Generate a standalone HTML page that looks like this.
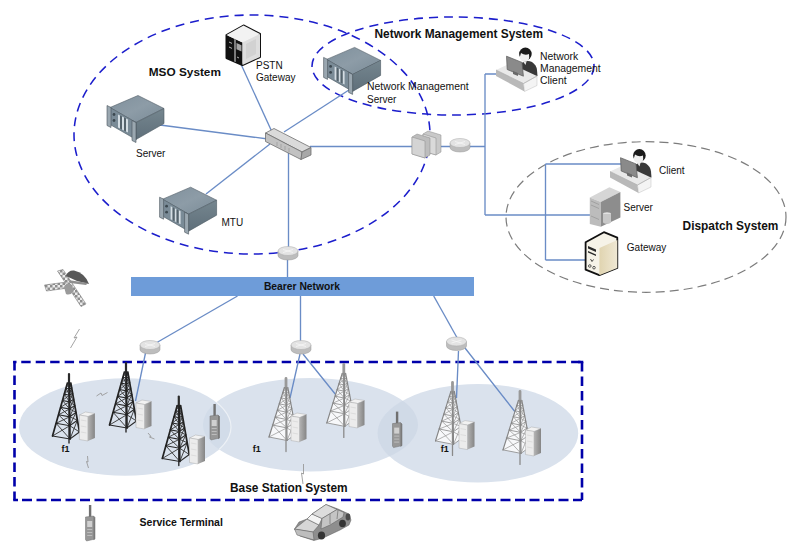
<!DOCTYPE html>
<html><head><meta charset="utf-8">
<style>
html,body{margin:0;padding:0;background:#fff;width:800px;height:546px;overflow:hidden}
svg{display:block}
text{font-family:"Liberation Sans",sans-serif;fill:#111}
.b{font-weight:bold}
</style></head><body>
<svg width="800" height="546" viewBox="0 0 800 546">
<defs>
 <!-- rack server, origin = top vertex -->
 <linearGradient id="rtop" x1="0" y1="0" x2="1" y2="1"><stop offset="0" stop-color="#7f909c"/><stop offset="0.5" stop-color="#8d9ca7"/><stop offset="1" stop-color="#7a8b97"/></linearGradient>
 <linearGradient id="rside" x1="0" y1="0" x2="0" y2="1"><stop offset="0" stop-color="#75868f"/><stop offset="1" stop-color="#5f6f7a"/></linearGradient>
 
 <!-- router disc, origin center of top -->
 
 <!-- base cabinet, origin top-left -->
 
 <linearGradient id="cabside" x1="0" y1="0" x2="1" y2="0"><stop offset="0" stop-color="#b4b4b4"/><stop offset="1" stop-color="#858585"/></linearGradient>
 <!-- dark tower, origin apex -->
 
 <!-- light tower, origin apex -->
 
 <!-- handheld radio, origin antenna top -->
 
 <!-- client at desk, origin desk left-top corner -->
 
</defs>

<!-- base station ellipses -->
<clipPath id="cE1"><ellipse cx="125" cy="427" rx="106" ry="48.75"/></clipPath>
<clipPath id="cE2"><ellipse cx="310.5" cy="424.75" rx="107.5" ry="46.75"/></clipPath>
<g fill="#dae2ed">
 <ellipse cx="125" cy="427" rx="106" ry="48.75"/>
 <ellipse cx="310.5" cy="424.75" rx="107.5" ry="46.75"/>
 <ellipse cx="477.9" cy="433.25" rx="100.3" ry="49.25"/>
</g>
<ellipse cx="310.5" cy="424.75" rx="107.5" ry="46.75" clip-path="url(#cE1)" fill="#b8c8dc" fill-opacity="0.22"/>
<ellipse cx="125" cy="427" rx="106" ry="48.75" clip-path="url(#cE2)" fill="none" stroke="#edf1f6" stroke-width="1.2"/>
<ellipse cx="477.9" cy="433.25" rx="100.3" ry="49.25" clip-path="url(#cE2)" fill="#b8c8dc" fill-opacity="0.3"/>

<!-- base station dashed rect -->
<g stroke="#0000aa" stroke-width="2.6" fill="none">
 <path d="M14.5,361 L14.5,500" stroke-dasharray="9.6 4.9"/>
 <path d="M582,362 L582,500" stroke-dasharray="9.5 5"/>
 <path d="M21.25,362 L582,362" stroke-dasharray="9.4 5.07"/>
 <path d="M22,500 L582,500" stroke-dasharray="10 4.5"/>
 <path d="M13.2,362 L16.5,362 M13.2,500 L18,500 M578,362 L583.3,362"/>
</g>

<!-- system ellipses -->
<ellipse cx="252" cy="134.5" rx="178" ry="119.5" fill="none" stroke="#1c1ecc" stroke-width="1.55" stroke-dasharray="9 6"/>
<ellipse cx="453" cy="66" rx="141" ry="49" fill="none" stroke="#1c1ecc" stroke-width="1.55" stroke-dasharray="9 6"/>
<ellipse cx="646" cy="217" rx="140" ry="75.3" fill="none" stroke="#7c7c7c" stroke-width="1.2" stroke-dasharray="9 5"/>

<!-- connection lines -->
<g stroke="#6a8cc6" stroke-width="1.35" fill="none">
 <path d="M160,125 L268,139"/>
 <path d="M240,62 L272,132"/>
 <path d="M352,88 L284,132"/>
 <path d="M206,194 L270,144"/>
 <path d="M288.5,150 L288.5,250 M287.5,258 L287.5,277"/>
 <path d="M310,146.5 L485,146.5"/>
 <path d="M485,74 L485,215 M485,74 L497,74"/>
 <path d="M485,215 L590,215"/>
 <path d="M545.5,164 L545.5,260 M545.5,164 L621,164 M545.5,260 L588,260"/>
 <path d="M237.5,296 L156,343"/>
 <path d="M300.5,296 L300.5,342"/>
 <path d="M433.7,296 L457.5,338.5"/>
 <path d="M145.5,353 L135.5,401"/>
 <path d="M300,354 L290,398 M303,354 L336,395"/>
 <path d="M458.5,351 L456.5,398 M465,348 L516,413"/>
</g>

<!-- bearer network bar -->
<rect x="131" y="277" width="343" height="19" fill="#6e9cd9"/>
<text x="302" y="289.5" class="b" font-size="10.3" text-anchor="middle">Bearer Network</text>

<!-- MSO icons -->
<g transform="translate(138,95.5)">
  <path d="M0,0 L26,13 L-2,27 L-28,12 Z" fill="url(#rtop)" stroke="#505d66" stroke-width="0.6" stroke-linejoin="round"/>
  <path d="M-28,12 L-2,27 L-2,44 L-28,29 Z" fill="#7a8b97" stroke="#4d5a63" stroke-width="0.6"/>
  <path d="M-2,27 L26,13 L26,28 L-2,44 Z" fill="url(#rside)" stroke="#4d5a63" stroke-width="0.6"/>
  <path d="M-31,10 L-27,12 L-27,32 L-31,30 Z" fill="#9aa7b0" stroke="#46525a" stroke-width="0.6"/>
  <path d="M-6,25 L-2,27 L-2,47 L-6,45 Z" fill="#9aa7b0" stroke="#46525a" stroke-width="0.6"/>
  <circle cx="-24" cy="19" r="1.4" fill="#3c4850"/>
  <circle cx="-24" cy="25" r="1.4" fill="#3c4850"/>
  <path d="M-20,19 L-18,20 L-18,33 L-20,32 Z M-16,21 L-14,22 L-14,35 L-16,34 Z M-12,23 L-10,24 L-10,37 L-12,36 Z" fill="#d4dde3"/>
  <path d="M-18,20 L-16,21 L-16,34 L-18,33 Z M-14,22 L-12,23 L-12,36 L-14,35 Z" fill="#55636c"/>
</g>
<g transform="translate(190.6,187.2)">
  <path d="M0,0 L26,13 L-2,27 L-28,12 Z" fill="url(#rtop)" stroke="#505d66" stroke-width="0.6" stroke-linejoin="round"/>
  <path d="M-28,12 L-2,27 L-2,44 L-28,29 Z" fill="#7a8b97" stroke="#4d5a63" stroke-width="0.6"/>
  <path d="M-2,27 L26,13 L26,28 L-2,44 Z" fill="url(#rside)" stroke="#4d5a63" stroke-width="0.6"/>
  <path d="M-31,10 L-27,12 L-27,32 L-31,30 Z" fill="#9aa7b0" stroke="#46525a" stroke-width="0.6"/>
  <path d="M-6,25 L-2,27 L-2,47 L-6,45 Z" fill="#9aa7b0" stroke="#46525a" stroke-width="0.6"/>
  <circle cx="-24" cy="19" r="1.4" fill="#3c4850"/>
  <circle cx="-24" cy="25" r="1.4" fill="#3c4850"/>
  <path d="M-20,19 L-18,20 L-18,33 L-20,32 Z M-16,21 L-14,22 L-14,35 L-16,34 Z M-12,23 L-10,24 L-10,37 L-12,36 Z" fill="#d4dde3"/>
  <path d="M-18,20 L-16,21 L-16,34 L-18,33 Z M-14,22 L-12,23 L-12,36 L-14,35 Z" fill="#55636c"/>
</g>
<g transform="translate(354.6,47.4)">
  <path d="M0,0 L26,13 L-2,27 L-28,12 Z" fill="url(#rtop)" stroke="#505d66" stroke-width="0.6" stroke-linejoin="round"/>
  <path d="M-28,12 L-2,27 L-2,44 L-28,29 Z" fill="#7a8b97" stroke="#4d5a63" stroke-width="0.6"/>
  <path d="M-2,27 L26,13 L26,28 L-2,44 Z" fill="url(#rside)" stroke="#4d5a63" stroke-width="0.6"/>
  <path d="M-31,10 L-27,12 L-27,32 L-31,30 Z" fill="#9aa7b0" stroke="#46525a" stroke-width="0.6"/>
  <path d="M-6,25 L-2,27 L-2,47 L-6,45 Z" fill="#9aa7b0" stroke="#46525a" stroke-width="0.6"/>
  <circle cx="-24" cy="19" r="1.4" fill="#3c4850"/>
  <circle cx="-24" cy="25" r="1.4" fill="#3c4850"/>
  <path d="M-20,19 L-18,20 L-18,33 L-20,32 Z M-16,21 L-14,22 L-14,35 L-16,34 Z M-12,23 L-10,24 L-10,37 L-12,36 Z" fill="#d4dde3"/>
  <path d="M-18,20 L-16,21 L-16,34 L-18,33 Z M-14,22 L-12,23 L-12,36 L-14,35 Z" fill="#55636c"/>
</g>

<!-- PSTN cube -->
<g>
 <path d="M243.5,25.5 L260,34 L260,57 L242.5,65 L226.5,58 L226.5,35 Z" fill="#e9e9e9" stroke="#111" stroke-width="2" stroke-linejoin="round"/>
 <path d="M226.5,35 L242.5,42.5 L242.5,65 L226.5,58 Z" fill="#111"/>
 <path d="M226.5,35 L243.5,25.5 L260,34 L242.5,42.5 Z" fill="#f2f2f2"/>
 <path d="M242.5,42.5 L260,34 L260,57 L242.5,65 Z" fill="#dedede"/>
 <path d="M246,44 L256,39 L256,54 L246,59 Z" fill="#d2d2d2"/>
 <path d="M234.5,39 L235.5,39.5 L235.5,62 L234.5,61.5 Z" fill="#e6e6e6"/>
 <path d="M236.5,43 L241.5,45.3 L241.5,51.5 L236.5,49.2 Z" fill="#a5a5a5"/>
 <path d="M229,42 L232,43.4 M229,47 L232,48.4 M237,57 L239,58" stroke="#ddd" stroke-width="0.8"/>
</g>

<!-- switch -->
<g stroke="#6f6f6f" stroke-width="0.8" stroke-linejoin="round">
 <path d="M265.5,133 L274,128.5 L311,147.5 L302,152 Z" fill="#dadada"/>
 <path d="M265.5,133 L302,152 L301,159.5 L265.5,141.5 Z" fill="#c2c2c2"/>
 <path d="M302,152 L311,147.5 L311,155 L301,159.5 Z" fill="#a8a8a8"/>
 <path d="M277,142 L277,146 M281,144 L281,148 M285,146 L285,150 M289,148 L289,152" stroke="#9a9a9a" stroke-width="0.7"/>
</g>

<!-- firewall -->
<g stroke="#8a8a8a" stroke-width="0.5">
 <path d="M423,134 L428,131 L441,135 L441,152 L436,155 L423,151 Z" fill="#c9c9c9"/>
 <path d="M423,134 L436,138 L436,155 L423,151 Z" fill="#dadada"/>
 <path d="M412,137 L417,134 L430,138 L430,155 L425,158 L412,154 Z" fill="#bdbdbd"/>
 <path d="M412,137 L425,141 L425,158 L412,154 Z" fill="#d4d4d4"/>
</g>

<!-- routers -->
<g transform="translate(460,143)">
  <path d="M-10,0 L-10,4.5 A10,4.5 0 0 0 10,4.5 L10,0 Z" fill="#bdbdbd" stroke="#9a9a9a" stroke-width="0.5"/>
  <ellipse cx="0" cy="0" rx="10" ry="4.5" fill="#e3e3e3" stroke="#a8a8a8" stroke-width="0.5"/>
  <path d="M-5,-1.5 L5,1.5 M-5,1.5 L5,-1.5" stroke="#f6f6f6" stroke-width="0.8"/>
</g>
<g transform="translate(288,251)">
  <path d="M-10,0 L-10,4.5 A10,4.5 0 0 0 10,4.5 L10,0 Z" fill="#bdbdbd" stroke="#9a9a9a" stroke-width="0.5"/>
  <ellipse cx="0" cy="0" rx="10" ry="4.5" fill="#e3e3e3" stroke="#a8a8a8" stroke-width="0.5"/>
  <path d="M-5,-1.5 L5,1.5 M-5,1.5 L5,-1.5" stroke="#f6f6f6" stroke-width="0.8"/>
</g>
<g transform="translate(150,345)">
  <path d="M-10,0 L-10,4.5 A10,4.5 0 0 0 10,4.5 L10,0 Z" fill="#bdbdbd" stroke="#9a9a9a" stroke-width="0.5"/>
  <ellipse cx="0" cy="0" rx="10" ry="4.5" fill="#e3e3e3" stroke="#a8a8a8" stroke-width="0.5"/>
  <path d="M-5,-1.5 L5,1.5 M-5,1.5 L5,-1.5" stroke="#f6f6f6" stroke-width="0.8"/>
</g>
<g transform="translate(301,345)">
  <path d="M-10,0 L-10,4.5 A10,4.5 0 0 0 10,4.5 L10,0 Z" fill="#bdbdbd" stroke="#9a9a9a" stroke-width="0.5"/>
  <ellipse cx="0" cy="0" rx="10" ry="4.5" fill="#e3e3e3" stroke="#a8a8a8" stroke-width="0.5"/>
  <path d="M-5,-1.5 L5,1.5 M-5,1.5 L5,-1.5" stroke="#f6f6f6" stroke-width="0.8"/>
</g>
<g transform="translate(456.5,341.5)">
  <path d="M-10,0 L-10,4.5 A10,4.5 0 0 0 10,4.5 L10,0 Z" fill="#bdbdbd" stroke="#9a9a9a" stroke-width="0.5"/>
  <ellipse cx="0" cy="0" rx="10" ry="4.5" fill="#e3e3e3" stroke="#a8a8a8" stroke-width="0.5"/>
  <path d="M-5,-1.5 L5,1.5 M-5,1.5 L5,-1.5" stroke="#f6f6f6" stroke-width="0.8"/>
</g>

<!-- clients -->
<g transform="translate(496,70)">
  <path d="M24,-6 Q30,-10.5 36,-8 Q40.5,-5 41,0 L41.5,6 L26,6 Z" fill="#393939"/>
  <path d="M27,-8.5 L30.5,-8.5 L29.5,-5 Z" fill="#e8e8e8"/>
  <ellipse cx="29.4" cy="-16" rx="6.3" ry="6.4" fill="#1a1a1a"/>
  <path d="M23.8,-13 Q24,-8.6 28.8,-8.4 Q33,-8.8 33.2,-12.5 L33,-16 Q29,-14 25,-17 Z" fill="#efefef"/>
  <path d="M0,0 L14,-6.5 L41,6 L27.5,13.5 Z" fill="#e9e9e9"/>
  <path d="M0,0 L27.5,13.5 L28.5,21.5 L0,6 Z" fill="#b9b9b9"/>
  <path d="M27.5,13.5 L41,6 L41,15.5 L28.5,21.5 Z" fill="#f4f4f4" stroke="#b0b0b0" stroke-width="0.4"/>
  <path d="M0,0 L27.5,13.5 L41,6" fill="none" stroke="#a8a8a8" stroke-width="0.6"/>
  <path d="M10.5,-13.8 L26,-7.6 L27.4,6.2 L11.2,-0.5 Z" fill="#8a8a8a" stroke="#5a5a5a" stroke-width="0.7"/>
  <path d="M17,1 L22,3 L22,6 L17,4 Z" fill="#6a6a6a"/>
</g>
<g transform="translate(610,171.5)">
  <path d="M24,-6 Q30,-10.5 36,-8 Q40.5,-5 41,0 L41.5,6 L26,6 Z" fill="#393939"/>
  <path d="M27,-8.5 L30.5,-8.5 L29.5,-5 Z" fill="#e8e8e8"/>
  <ellipse cx="29.4" cy="-16" rx="6.3" ry="6.4" fill="#1a1a1a"/>
  <path d="M23.8,-13 Q24,-8.6 28.8,-8.4 Q33,-8.8 33.2,-12.5 L33,-16 Q29,-14 25,-17 Z" fill="#efefef"/>
  <path d="M0,0 L14,-6.5 L41,6 L27.5,13.5 Z" fill="#e9e9e9"/>
  <path d="M0,0 L27.5,13.5 L28.5,21.5 L0,6 Z" fill="#b9b9b9"/>
  <path d="M27.5,13.5 L41,6 L41,15.5 L28.5,21.5 Z" fill="#f4f4f4" stroke="#b0b0b0" stroke-width="0.4"/>
  <path d="M0,0 L27.5,13.5 L41,6" fill="none" stroke="#a8a8a8" stroke-width="0.6"/>
  <path d="M10.5,-13.8 L26,-7.6 L27.4,6.2 L11.2,-0.5 Z" fill="#8a8a8a" stroke="#5a5a5a" stroke-width="0.7"/>
  <path d="M17,1 L22,3 L22,6 L17,4 Z" fill="#6a6a6a"/>
</g>

<!-- dispatch server tower -->
<g>
 <path d="M589.8,197.4 L609.4,187.3 L620.4,191.9 L600.8,202 Z" fill="#d6d6d6"/>
 <path d="M589.8,197.4 L600.8,202 L600.8,226.7 L589.8,224 Z" fill="#bcbcbc"/>
 <path d="M600.8,202 L620.4,191.9 L620.4,217.5 L600.8,226.7 Z" fill="#8d8d8d"/>
 <path d="M591,201 L599,204.5 M591,205 L599,208.5 M591,216 L599,219.5" stroke="#999" stroke-width="0.8"/>
 <ellipse cx="607" cy="214" rx="4" ry="1.8" fill="#e2e2e2"/>
 <path d="M603,214 L603,222 A4,1.8 0 0 0 611,222 L611,214 Z" fill="#c8c8c8"/>
</g>

<!-- dispatch gateway -->
<g stroke-linejoin="round">
 <path d="M603.9,232.2 L617.3,237.7 L617.3,267.9 L599.3,275.2 L585.6,269.7 L585.6,242.3 Z" fill="#f6f3e8" stroke="#111" stroke-width="1.8"/>
 <path d="M599.5,248 L617.3,240 L617.3,267.9 L599.3,275.2 Z" fill="url(#gwside)"/>
 <linearGradient id="gwside" x1="0" y1="0" x2="1" y2="0"><stop offset="0" stop-color="#e0d4b0"/><stop offset="1" stop-color="#efe8d4"/></linearGradient>
 <path d="M588,246 L596,249.5 L596,252 L588,248.5 Z M588,251 L596,254.5 L596,256 L588,252.5 Z" fill="#2a2a2a"/>
 <path d="M590.5,259 L592,261.5 L593.5,259.5" stroke="#333" stroke-width="0.9" fill="none"/>
 <circle cx="589.8" cy="266" r="1.3" fill="none" stroke="#333" stroke-width="0.8"/>
 <circle cx="594" cy="267.7" r="1.3" fill="none" stroke="#333" stroke-width="0.8"/>
</g>

<!-- base station towers and cabinets -->
<g transform="translate(69,374)" fill="none" stroke-linecap="round">
  <path d="M0,0 L0,9" stroke="#2a2a2a" stroke-width="2.2"/>
  <path d="M0,9 L0,69" stroke="#2a2a2a" stroke-width="1.4"/>
  <path d="M-1.6,9.0 L0.4,15.1 M0.3,9.5 L-3.1,14.3 M0.3,9.5 L2.7,13.9 M1.8,9.0 L0.4,15.1 M-3.1,14.3 L0.4,21.2 M0.4,15.1 L-4.7,20.1 M0.4,15.1 L3.6,19.3 M2.7,13.9 L0.4,21.2 M-4.7,20.1 L0.5,27.8 M0.4,21.2 L-6.5,26.5 M0.4,21.2 L4.7,25.2 M3.6,19.3 L0.5,27.8 M-6.5,26.5 L0.6,35.0 M0.5,27.8 L-8.5,33.4 M0.5,27.8 L5.8,31.5 M4.7,25.2 L0.6,35.0 M-8.5,33.4 L0.7,42.8 M0.6,35.0 L-10.5,40.8 M0.6,35.0 L7.0,38.4 M5.8,31.5 L0.7,42.8 M-10.5,40.8 L0.8,51.7 M0.7,42.8 L-12.9,49.3 M0.7,42.8 L8.4,46.2 M7.0,38.4 L0.8,51.7 M-12.9,49.3 L1.0,65.0 M0.8,51.7 L-16.5,62.0 M0.8,51.7 L10.5,58.0 M8.4,46.2 L1.0,65.0" stroke="#333" stroke-width="0.9"/>
  <path d="M-3.1,14.3 L0.4,15.1 L2.7,13.9 M-4.7,20.1 L0.4,21.2 L3.6,19.3 M-6.5,26.5 L0.5,27.8 L4.7,25.2 M-8.5,33.4 L0.6,35.0 L5.8,31.5 M-10.5,40.8 L0.7,42.8 L7.0,38.4 M-12.9,49.3 L0.8,51.7 L8.4,46.2 M-16.5,62.0 L1.0,65.0 L10.5,58.0" stroke="#2a2a2a" stroke-width="1.1"/>
  <path d="M-1.6,9.0 L-16.5,62.0 M0.3,9.5 L1.0,65.0 M1.8,9.0 L10.5,58.0" stroke="#222" stroke-width="1.7"/>
</g>
<g transform="translate(79.4,412)">
  <path d="M0,3 L6,0 L15.5,1.5 L8.5,4.5 Z" fill="#f2f2f2" stroke="#a0a0a0" stroke-width="0.4"/>
  <path d="M0,3 L8.5,4.5 L8.5,29 L0,27.5 Z" fill="#ececec" stroke="#a0a0a0" stroke-width="0.4"/>
  <path d="M8.5,4.5 L15.5,1.5 L15.5,26 L8.5,29 Z" fill="url(#cabside)"/>
  <path d="M1.5,8 L7,9 M1.5,14 L7,15 M1.5,20 L7,21" stroke="#d2d2d2" stroke-width="0.6"/>
</g>
<g transform="translate(126,363)" fill="none" stroke-linecap="round">
  <path d="M0,0 L0,9" stroke="#2a2a2a" stroke-width="2.2"/>
  <path d="M0,9 L0,69" stroke="#2a2a2a" stroke-width="1.4"/>
  <path d="M-1.6,9.0 L0.4,15.1 M0.3,9.5 L-3.1,14.3 M0.3,9.5 L2.7,13.9 M1.8,9.0 L0.4,15.1 M-3.1,14.3 L0.4,21.2 M0.4,15.1 L-4.7,20.1 M0.4,15.1 L3.6,19.3 M2.7,13.9 L0.4,21.2 M-4.7,20.1 L0.5,27.8 M0.4,21.2 L-6.5,26.5 M0.4,21.2 L4.7,25.2 M3.6,19.3 L0.5,27.8 M-6.5,26.5 L0.6,35.0 M0.5,27.8 L-8.5,33.4 M0.5,27.8 L5.8,31.5 M4.7,25.2 L0.6,35.0 M-8.5,33.4 L0.7,42.8 M0.6,35.0 L-10.5,40.8 M0.6,35.0 L7.0,38.4 M5.8,31.5 L0.7,42.8 M-10.5,40.8 L0.8,51.7 M0.7,42.8 L-12.9,49.3 M0.7,42.8 L8.4,46.2 M7.0,38.4 L0.8,51.7 M-12.9,49.3 L1.0,65.0 M0.8,51.7 L-16.5,62.0 M0.8,51.7 L10.5,58.0 M8.4,46.2 L1.0,65.0" stroke="#333" stroke-width="0.9"/>
  <path d="M-3.1,14.3 L0.4,15.1 L2.7,13.9 M-4.7,20.1 L0.4,21.2 L3.6,19.3 M-6.5,26.5 L0.5,27.8 L4.7,25.2 M-8.5,33.4 L0.6,35.0 L5.8,31.5 M-10.5,40.8 L0.7,42.8 L7.0,38.4 M-12.9,49.3 L0.8,51.7 L8.4,46.2 M-16.5,62.0 L1.0,65.0 L10.5,58.0" stroke="#2a2a2a" stroke-width="1.1"/>
  <path d="M-1.6,9.0 L-16.5,62.0 M0.3,9.5 L1.0,65.0 M1.8,9.0 L10.5,58.0" stroke="#222" stroke-width="1.7"/>
</g>
<g transform="translate(136,400)">
  <path d="M0,3 L6,0 L15.5,1.5 L8.5,4.5 Z" fill="#f2f2f2" stroke="#a0a0a0" stroke-width="0.4"/>
  <path d="M0,3 L8.5,4.5 L8.5,29 L0,27.5 Z" fill="#ececec" stroke="#a0a0a0" stroke-width="0.4"/>
  <path d="M8.5,4.5 L15.5,1.5 L15.5,26 L8.5,29 Z" fill="url(#cabside)"/>
  <path d="M1.5,8 L7,9 M1.5,14 L7,15 M1.5,20 L7,21" stroke="#d2d2d2" stroke-width="0.6"/>
</g>
<g transform="translate(178.8,396.5)" fill="none" stroke-linecap="round">
  <path d="M0,0 L0,9" stroke="#2a2a2a" stroke-width="2.2"/>
  <path d="M0,9 L0,69" stroke="#2a2a2a" stroke-width="1.4"/>
  <path d="M-1.6,9.0 L0.4,15.1 M0.3,9.5 L-3.1,14.3 M0.3,9.5 L2.7,13.9 M1.8,9.0 L0.4,15.1 M-3.1,14.3 L0.4,21.2 M0.4,15.1 L-4.7,20.1 M0.4,15.1 L3.6,19.3 M2.7,13.9 L0.4,21.2 M-4.7,20.1 L0.5,27.8 M0.4,21.2 L-6.5,26.5 M0.4,21.2 L4.7,25.2 M3.6,19.3 L0.5,27.8 M-6.5,26.5 L0.6,35.0 M0.5,27.8 L-8.5,33.4 M0.5,27.8 L5.8,31.5 M4.7,25.2 L0.6,35.0 M-8.5,33.4 L0.7,42.8 M0.6,35.0 L-10.5,40.8 M0.6,35.0 L7.0,38.4 M5.8,31.5 L0.7,42.8 M-10.5,40.8 L0.8,51.7 M0.7,42.8 L-12.9,49.3 M0.7,42.8 L8.4,46.2 M7.0,38.4 L0.8,51.7 M-12.9,49.3 L1.0,65.0 M0.8,51.7 L-16.5,62.0 M0.8,51.7 L10.5,58.0 M8.4,46.2 L1.0,65.0" stroke="#333" stroke-width="0.9"/>
  <path d="M-3.1,14.3 L0.4,15.1 L2.7,13.9 M-4.7,20.1 L0.4,21.2 L3.6,19.3 M-6.5,26.5 L0.5,27.8 L4.7,25.2 M-8.5,33.4 L0.6,35.0 L5.8,31.5 M-10.5,40.8 L0.7,42.8 L7.0,38.4 M-12.9,49.3 L0.8,51.7 L8.4,46.2 M-16.5,62.0 L1.0,65.0 L10.5,58.0" stroke="#2a2a2a" stroke-width="1.1"/>
  <path d="M-1.6,9.0 L-16.5,62.0 M0.3,9.5 L1.0,65.0 M1.8,9.0 L10.5,58.0" stroke="#222" stroke-width="1.7"/>
</g>
<g transform="translate(189.5,435)">
  <path d="M0,3 L6,0 L15.5,1.5 L8.5,4.5 Z" fill="#f2f2f2" stroke="#a0a0a0" stroke-width="0.4"/>
  <path d="M0,3 L8.5,4.5 L8.5,29 L0,27.5 Z" fill="#ececec" stroke="#a0a0a0" stroke-width="0.4"/>
  <path d="M8.5,4.5 L15.5,1.5 L15.5,26 L8.5,29 Z" fill="url(#cabside)"/>
  <path d="M1.5,8 L7,9 M1.5,14 L7,15 M1.5,20 L7,21" stroke="#d2d2d2" stroke-width="0.6"/>
</g>

<g transform="translate(286,378.5)" fill="none" stroke-linecap="round">
  <path d="M-1.6,9.0 L-17.0,58.5 L1.0,62.0 L10.5,55.0 L1.8,9.0 Z" fill="#f7f8fa" stroke="none"/>
  <path d="M0,0 L0,10" stroke="#999" stroke-width="2.8"/>
  <path d="M0,9 L0,73" stroke="#8a8a8a" stroke-width="1.3"/>
  <path d="M-1.6,9.0 L0.4,14.8 M0.3,9.5 L-3.1,13.9 M0.3,9.5 L2.7,13.6 M1.8,9.0 L0.4,14.8 M-3.1,13.9 L0.4,20.5 M0.4,14.8 L-4.8,19.4 M0.4,14.8 L3.6,18.7 M2.7,13.6 L0.4,20.5 M-4.8,19.4 L0.5,26.8 M0.4,20.5 L-6.7,25.3 M0.4,20.5 L4.7,24.2 M3.6,18.7 L0.5,26.8 M-6.7,25.3 L0.6,33.7 M0.5,26.8 L-8.7,31.8 M0.5,26.8 L5.8,30.2 M4.7,24.2 L0.6,33.7 M-8.7,31.8 L0.7,41.0 M0.6,33.7 L-10.8,38.7 M0.6,33.7 L7.0,36.6 M5.8,30.2 L0.7,41.0 M-10.8,38.7 L0.8,49.4 M0.7,41.0 L-13.3,46.6 M0.7,41.0 L8.4,44.0 M7.0,36.6 L0.8,49.4 M-13.3,46.6 L1.0,62.0 M0.8,49.4 L-17.0,58.5 M0.8,49.4 L10.5,55.0 M8.4,44.0 L1.0,62.0" stroke="#9a9a9a" stroke-width="0.75"/>
  <path d="M-3.1,13.9 L0.4,14.8 L2.7,13.6 M-4.8,19.4 L0.4,20.5 L3.6,18.7 M-6.7,25.3 L0.5,26.8 L4.7,24.2 M-8.7,31.8 L0.6,33.7 L5.8,30.2 M-10.8,38.7 L0.7,41.0 L7.0,36.6 M-13.3,46.6 L0.8,49.4 L8.4,44.0 M-17.0,58.5 L1.0,62.0 L10.5,55.0" stroke="#939393" stroke-width="0.9"/>
  <path d="M-1.6,9.0 L-17.0,58.5 M0.3,9.5 L1.0,62.0 M1.8,9.0 L10.5,55.0" stroke="#858585" stroke-width="1.2"/>
</g>
<g transform="translate(291,413)">
  <path d="M0,3 L6,0 L15.5,1.5 L8.5,4.5 Z" fill="#f2f2f2" stroke="#a0a0a0" stroke-width="0.4"/>
  <path d="M0,3 L8.5,4.5 L8.5,29 L0,27.5 Z" fill="#ececec" stroke="#a0a0a0" stroke-width="0.4"/>
  <path d="M8.5,4.5 L15.5,1.5 L15.5,26 L8.5,29 Z" fill="url(#cabside)"/>
  <path d="M1.5,8 L7,9 M1.5,14 L7,15 M1.5,20 L7,21" stroke="#d2d2d2" stroke-width="0.6"/>
</g>
<g transform="translate(343.8,364.4)" fill="none" stroke-linecap="round">
  <path d="M-1.6,9.0 L-17.0,58.5 L1.0,62.0 L10.5,55.0 L1.8,9.0 Z" fill="#f7f8fa" stroke="none"/>
  <path d="M0,0 L0,10" stroke="#999" stroke-width="2.8"/>
  <path d="M0,9 L0,73" stroke="#8a8a8a" stroke-width="1.3"/>
  <path d="M-1.6,9.0 L0.4,14.8 M0.3,9.5 L-3.1,13.9 M0.3,9.5 L2.7,13.6 M1.8,9.0 L0.4,14.8 M-3.1,13.9 L0.4,20.5 M0.4,14.8 L-4.8,19.4 M0.4,14.8 L3.6,18.7 M2.7,13.6 L0.4,20.5 M-4.8,19.4 L0.5,26.8 M0.4,20.5 L-6.7,25.3 M0.4,20.5 L4.7,24.2 M3.6,18.7 L0.5,26.8 M-6.7,25.3 L0.6,33.7 M0.5,26.8 L-8.7,31.8 M0.5,26.8 L5.8,30.2 M4.7,24.2 L0.6,33.7 M-8.7,31.8 L0.7,41.0 M0.6,33.7 L-10.8,38.7 M0.6,33.7 L7.0,36.6 M5.8,30.2 L0.7,41.0 M-10.8,38.7 L0.8,49.4 M0.7,41.0 L-13.3,46.6 M0.7,41.0 L8.4,44.0 M7.0,36.6 L0.8,49.4 M-13.3,46.6 L1.0,62.0 M0.8,49.4 L-17.0,58.5 M0.8,49.4 L10.5,55.0 M8.4,44.0 L1.0,62.0" stroke="#9a9a9a" stroke-width="0.75"/>
  <path d="M-3.1,13.9 L0.4,14.8 L2.7,13.6 M-4.8,19.4 L0.4,20.5 L3.6,18.7 M-6.7,25.3 L0.5,26.8 L4.7,24.2 M-8.7,31.8 L0.6,33.7 L5.8,30.2 M-10.8,38.7 L0.7,41.0 L7.0,36.6 M-13.3,46.6 L0.8,49.4 L8.4,44.0 M-17.0,58.5 L1.0,62.0 L10.5,55.0" stroke="#939393" stroke-width="0.9"/>
  <path d="M-1.6,9.0 L-17.0,58.5 M0.3,9.5 L1.0,62.0 M1.8,9.0 L10.5,55.0" stroke="#858585" stroke-width="1.2"/>
</g>
<g transform="translate(349,399)">
  <path d="M0,3 L6,0 L15.5,1.5 L8.5,4.5 Z" fill="#f2f2f2" stroke="#a0a0a0" stroke-width="0.4"/>
  <path d="M0,3 L8.5,4.5 L8.5,29 L0,27.5 Z" fill="#ececec" stroke="#a0a0a0" stroke-width="0.4"/>
  <path d="M8.5,4.5 L15.5,1.5 L15.5,26 L8.5,29 Z" fill="url(#cabside)"/>
  <path d="M1.5,8 L7,9 M1.5,14 L7,15 M1.5,20 L7,21" stroke="#d2d2d2" stroke-width="0.6"/>
</g>

<g transform="translate(452.5,382.4)" fill="none" stroke-linecap="round">
  <path d="M-1.6,9.0 L-17.0,58.5 L1.0,62.0 L10.5,55.0 L1.8,9.0 Z" fill="#f7f8fa" stroke="none"/>
  <path d="M0,0 L0,10" stroke="#999" stroke-width="2.8"/>
  <path d="M0,9 L0,73" stroke="#8a8a8a" stroke-width="1.3"/>
  <path d="M-1.6,9.0 L0.4,14.8 M0.3,9.5 L-3.1,13.9 M0.3,9.5 L2.7,13.6 M1.8,9.0 L0.4,14.8 M-3.1,13.9 L0.4,20.5 M0.4,14.8 L-4.8,19.4 M0.4,14.8 L3.6,18.7 M2.7,13.6 L0.4,20.5 M-4.8,19.4 L0.5,26.8 M0.4,20.5 L-6.7,25.3 M0.4,20.5 L4.7,24.2 M3.6,18.7 L0.5,26.8 M-6.7,25.3 L0.6,33.7 M0.5,26.8 L-8.7,31.8 M0.5,26.8 L5.8,30.2 M4.7,24.2 L0.6,33.7 M-8.7,31.8 L0.7,41.0 M0.6,33.7 L-10.8,38.7 M0.6,33.7 L7.0,36.6 M5.8,30.2 L0.7,41.0 M-10.8,38.7 L0.8,49.4 M0.7,41.0 L-13.3,46.6 M0.7,41.0 L8.4,44.0 M7.0,36.6 L0.8,49.4 M-13.3,46.6 L1.0,62.0 M0.8,49.4 L-17.0,58.5 M0.8,49.4 L10.5,55.0 M8.4,44.0 L1.0,62.0" stroke="#9a9a9a" stroke-width="0.75"/>
  <path d="M-3.1,13.9 L0.4,14.8 L2.7,13.6 M-4.8,19.4 L0.4,20.5 L3.6,18.7 M-6.7,25.3 L0.5,26.8 L4.7,24.2 M-8.7,31.8 L0.6,33.7 L5.8,30.2 M-10.8,38.7 L0.7,41.0 L7.0,36.6 M-13.3,46.6 L0.8,49.4 L8.4,44.0 M-17.0,58.5 L1.0,62.0 L10.5,55.0" stroke="#939393" stroke-width="0.9"/>
  <path d="M-1.6,9.0 L-17.0,58.5 M0.3,9.5 L1.0,62.0 M1.8,9.0 L10.5,55.0" stroke="#858585" stroke-width="1.2"/>
</g>
<g transform="translate(459,420.6)">
  <path d="M0,3 L6,0 L15.5,1.5 L8.5,4.5 Z" fill="#f2f2f2" stroke="#a0a0a0" stroke-width="0.4"/>
  <path d="M0,3 L8.5,4.5 L8.5,29 L0,27.5 Z" fill="#ececec" stroke="#a0a0a0" stroke-width="0.4"/>
  <path d="M8.5,4.5 L15.5,1.5 L15.5,26 L8.5,29 Z" fill="url(#cabside)"/>
  <path d="M1.5,8 L7,9 M1.5,14 L7,15 M1.5,20 L7,21" stroke="#d2d2d2" stroke-width="0.6"/>
</g>
<g transform="translate(520,391.4)" fill="none" stroke-linecap="round">
  <path d="M-1.6,9.0 L-17.0,58.5 L1.0,62.0 L10.5,55.0 L1.8,9.0 Z" fill="#f7f8fa" stroke="none"/>
  <path d="M0,0 L0,10" stroke="#999" stroke-width="2.8"/>
  <path d="M0,9 L0,73" stroke="#8a8a8a" stroke-width="1.3"/>
  <path d="M-1.6,9.0 L0.4,14.8 M0.3,9.5 L-3.1,13.9 M0.3,9.5 L2.7,13.6 M1.8,9.0 L0.4,14.8 M-3.1,13.9 L0.4,20.5 M0.4,14.8 L-4.8,19.4 M0.4,14.8 L3.6,18.7 M2.7,13.6 L0.4,20.5 M-4.8,19.4 L0.5,26.8 M0.4,20.5 L-6.7,25.3 M0.4,20.5 L4.7,24.2 M3.6,18.7 L0.5,26.8 M-6.7,25.3 L0.6,33.7 M0.5,26.8 L-8.7,31.8 M0.5,26.8 L5.8,30.2 M4.7,24.2 L0.6,33.7 M-8.7,31.8 L0.7,41.0 M0.6,33.7 L-10.8,38.7 M0.6,33.7 L7.0,36.6 M5.8,30.2 L0.7,41.0 M-10.8,38.7 L0.8,49.4 M0.7,41.0 L-13.3,46.6 M0.7,41.0 L8.4,44.0 M7.0,36.6 L0.8,49.4 M-13.3,46.6 L1.0,62.0 M0.8,49.4 L-17.0,58.5 M0.8,49.4 L10.5,55.0 M8.4,44.0 L1.0,62.0" stroke="#9a9a9a" stroke-width="0.75"/>
  <path d="M-3.1,13.9 L0.4,14.8 L2.7,13.6 M-4.8,19.4 L0.4,20.5 L3.6,18.7 M-6.7,25.3 L0.5,26.8 L4.7,24.2 M-8.7,31.8 L0.6,33.7 L5.8,30.2 M-10.8,38.7 L0.7,41.0 L7.0,36.6 M-13.3,46.6 L0.8,49.4 L8.4,44.0 M-17.0,58.5 L1.0,62.0 L10.5,55.0" stroke="#939393" stroke-width="0.9"/>
  <path d="M-1.6,9.0 L-17.0,58.5 M0.3,9.5 L1.0,62.0 M1.8,9.0 L10.5,55.0" stroke="#858585" stroke-width="1.2"/>
</g>
<g transform="translate(525.5,427)">
  <path d="M0,3 L6,0 L15.5,1.5 L8.5,4.5 Z" fill="#f2f2f2" stroke="#a0a0a0" stroke-width="0.4"/>
  <path d="M0,3 L8.5,4.5 L8.5,29 L0,27.5 Z" fill="#ececec" stroke="#a0a0a0" stroke-width="0.4"/>
  <path d="M8.5,4.5 L15.5,1.5 L15.5,26 L8.5,29 Z" fill="url(#cabside)"/>
  <path d="M1.5,8 L7,9 M1.5,14 L7,15 M1.5,20 L7,21" stroke="#d2d2d2" stroke-width="0.6"/>
</g>

<!-- radios -->
<g transform="translate(214.5,404)">
  <rect x="-1.1" y="0" width="2.4" height="13" fill="#707070"/>
  <path d="M-4.5,12 L3.5,11 L5,12.5 L5,34 L-3.5,36 L-4.5,34.5 Z" fill="#979797" stroke="#6e6e6e" stroke-width="0.5"/>
  <path d="M3.5,11 L5,12.5 L5,34 L3.5,35.3 Z" fill="#7a7a7a"/>
  <rect x="-2.8" y="16" width="5" height="6" fill="#d0d0d0"/>
  <path d="M-2.8,24.5 h5 M-2.8,27.5 h5 M-2.8,30.5 h5" stroke="#bcbcbc" stroke-width="1"/>
</g>
<g transform="translate(397,411.6)">
  <rect x="-1.1" y="0" width="2.4" height="13" fill="#707070"/>
  <path d="M-4.5,12 L3.5,11 L5,12.5 L5,34 L-3.5,36 L-4.5,34.5 Z" fill="#979797" stroke="#6e6e6e" stroke-width="0.5"/>
  <path d="M3.5,11 L5,12.5 L5,34 L3.5,35.3 Z" fill="#7a7a7a"/>
  <rect x="-2.8" y="16" width="5" height="6" fill="#d0d0d0"/>
  <path d="M-2.8,24.5 h5 M-2.8,27.5 h5 M-2.8,30.5 h5" stroke="#bcbcbc" stroke-width="1"/>
</g>
<g transform="translate(90,505)">
  <rect x="-1.1" y="0" width="2.4" height="13" fill="#707070"/>
  <path d="M-4.5,12 L3.5,11 L5,12.5 L5,34 L-3.5,36 L-4.5,34.5 Z" fill="#979797" stroke="#6e6e6e" stroke-width="0.5"/>
  <path d="M3.5,11 L5,12.5 L5,34 L3.5,35.3 Z" fill="#7a7a7a"/>
  <rect x="-2.8" y="16" width="5" height="6" fill="#d0d0d0"/>
  <path d="M-2.8,24.5 h5 M-2.8,27.5 h5 M-2.8,30.5 h5" stroke="#bcbcbc" stroke-width="1"/>
</g>

<!-- lightning marks -->
<g stroke="#9a9a9a" stroke-width="0.9" fill="none">
 <path d="M79.5,329 L74,338 L77,337 L70.5,348"/>
 <path d="M96.5,396 L101,393 L102,395.5 L107.5,392.5"/>
 <path d="M148,433 L151,436.5 L149.5,437 L154.5,439"/>
 <path d="M87.5,456 L88,462 L86.5,461.5 L88.5,468"/>
 <path d="M303.5,464 L303.5,474 L301.5,473 L303,484"/>
</g>

<!-- satellite -->
<g>
 <defs>
  <pattern id="chk" width="5" height="5" patternUnits="userSpaceOnUse"><rect width="5" height="5" fill="#ececec"/><rect width="2.5" height="2.5" fill="#8e8e8e"/><rect x="2.5" y="2.5" width="2.5" height="2.5" fill="#8e8e8e"/></pattern>
 </defs>
 <path d="M44.5,285 L67,282 L68,288 L46.5,291 Z" fill="url(#chk)" stroke="#777" stroke-width="0.6"/>
 <path d="M57.5,271 L63,269.5 L86,304 L81,306.5 Z" fill="url(#chk)" stroke="#777" stroke-width="0.6"/>
 <path d="M64,287 Q66,283 71,284 L74,291 Q70,296 66,294 Z" fill="#9a9a9a"/>
 <path d="M66,276 Q68,270 74,270.5 Q85,273 89,284 L77,281 Z" fill="#585858"/>
 <path d="M68,280 L88,283 L86,285 L70,283 Z" fill="#8f8f8f"/>
</g>

<!-- car -->
<g stroke="#5a5a5a" stroke-width="0.5" stroke-linejoin="round">
 <path d="M294.5,529 L299,522 L307,519 L312,514 L326,504.5 L338,509 L349,514 L351,520 L349,525 L340,530 L323,538 L314,540.5 L300,536 Z" fill="#8e8e8e"/>
 <path d="M294.5,529 L307,519 L319,525 L313,532 Z" fill="#d6d6d6"/>
 <path d="M294.5,529 L313,532 L314,540 L297,535 Z" fill="#bdbdbd"/>
 <path d="M307,519 L312,514 L322,518.5 L319,525 Z" fill="#f4f4f4"/>
 <path d="M312,514 L326,504.5 L337,509.5 L322,518.5 Z" fill="#dcdcdc"/>
 <path d="M322,518.5 L337,509.5 L344,512.5 L343,517 L330,525 L321,529 Z" fill="#c4c4c4"/>
 <path d="M330,514 L330,524 M338,510 L337,519" stroke="#7a7a7a" stroke-width="0.8"/>
 <ellipse cx="321.5" cy="535.5" rx="3.6" ry="4" fill="#353535" stroke="none"/>
 <ellipse cx="342.5" cy="523.5" rx="3.4" ry="3.8" fill="#353535" stroke="none"/>
 <ellipse cx="348" cy="517" rx="2.4" ry="3.4" fill="#4a4a4a" stroke="none"/>
</g>

<!-- labels -->
<text x="148.8" y="76" class="b" font-size="11.8">MSO System</text>
<text x="374.5" y="37.5" class="b" font-size="11.9">Network Management System</text>
<text x="682.6" y="230" class="b" font-size="11.9">Dispatch System</text>
<text x="230" y="492" class="b" font-size="11.9">Base Station System</text>
<text x="139.6" y="526" class="b" font-size="10.5">Service Terminal</text>

<g font-size="10">
 <text x="136" y="157">Server</text>
 <text x="256" y="68.7">PSTN</text>
 <text x="256" y="81">Gateway</text>
 <text x="367" y="90" font-size="10.4">Network Management</text>
 <text x="367" y="102.7">Server</text>
 <text x="221.5" y="226.4">MTU</text>
 <text x="540" y="59.5" font-size="10.4">Network</text>
 <text x="540" y="71.5" font-size="10.4">Management</text>
 <text x="540" y="84.2" font-size="10.4">Client</text>
 <text x="659" y="173.7">Client</text>
 <text x="623.5" y="210.5">Server</text>
 <text x="626.8" y="250.5">Gateway</text>
 <text x="61.6" y="451.6" font-size="9" font-weight="bold">f1</text>
 <text x="252.8" y="451.5" font-size="9" font-weight="bold">f1</text>
 <text x="440.8" y="451.5" font-size="9" font-weight="bold">f1</text>
</g>
</svg>
</body></html>
